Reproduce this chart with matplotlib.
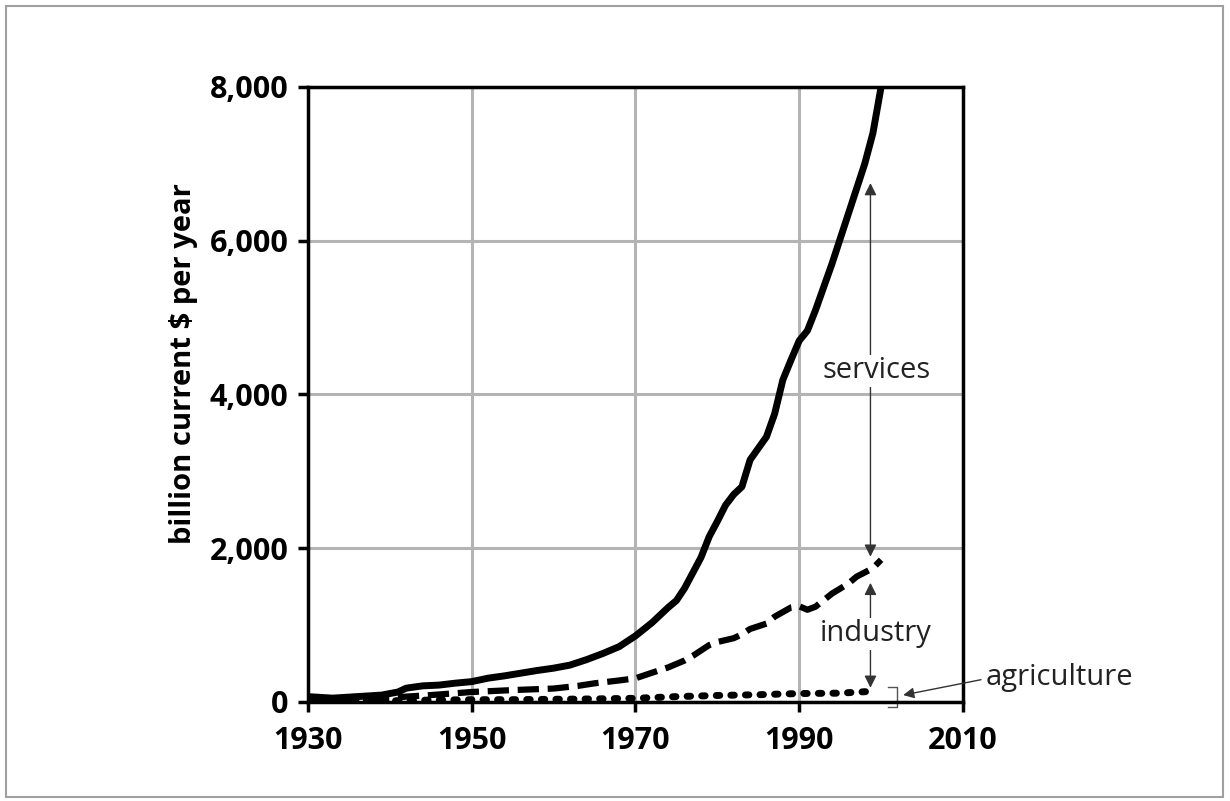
import matplotlib.pyplot as plt
from matplotlib.patches import Rectangle
from matplotlib.ticker import FuncFormatter

plt.rcParams['font.family'] = ['Open Sans', 'DejaVu Sans']

# services (solid)
years_s = [1930, 1933, 1936, 1939, 1941, 1942, 1944, 1946, 1948, 1950, 1952, 1954,
           1956, 1958, 1960, 1962, 1964, 1966, 1968, 1970, 1972, 1974, 1975, 1976,
           1977, 1978, 1979, 1980, 1981, 1982, 1983, 1984, 1986, 1987, 1988, 1989,
           1990, 1991, 1992, 1994, 1996, 1998, 1999, 2000]
services = [70, 50, 70, 90, 130, 180, 210, 220, 245, 265, 310, 340,
            375, 410, 440, 480, 550, 630, 720, 860, 1030, 1230, 1320, 1480,
            1680, 1880, 2150, 2350, 2560, 2700, 2800, 3150, 3450, 3750, 4190, 4450,
            4700, 4830, 5100, 5700, 6350, 7000, 7400, 8000]

# industry (dashed)
years_i = [1930, 1935, 1940, 1942, 1945, 1950, 1955, 1960, 1963, 1965, 1968, 1970,
           1972, 1974, 1976, 1977, 1979, 1980, 1982, 1983, 1984, 1986, 1987, 1988,
           1989, 1990, 1991, 1992, 1994, 1996, 1997, 1999, 2000]
industry = [40, 35, 50, 70, 90, 130, 155, 175, 210, 243, 280, 308,
            380, 450, 540, 600, 740, 780, 830, 880, 950, 1020, 1110, 1170,
            1230, 1245, 1200, 1240, 1410, 1540, 1630, 1740, 1850]

# agriculture (dotted)
years_a = [1930, 1940, 1945, 1950, 1955, 1960, 1965, 1970, 1975, 1980, 1985, 1990,
           1995, 1999]
agriculture = [15, 15, 25, 30, 30, 35, 40, 48, 70, 85, 95, 110, 115, 140]

x_ticks = [1930, 1950, 1970, 1990, 2010]
y_ticks = [0, 2000, 4000, 6000, 8000]

fig = plt.figure(figsize=(12.3, 8.01), dpi=100)
fig.patches.append(Rectangle((6 / 1230, 4 / 801), 1217 / 1230, 791 / 801,
                             transform=fig.transFigure, fill=False,
                             edgecolor='#a0a0a0', lw=1.5))
ax = fig.add_axes([0.2504, 0.1236, 0.5325, 0.7678])

ax.plot(years_s, services, color='black', lw=5, solid_capstyle='butt')
ax.plot(years_i, industry, color='black', lw=4.5, dashes=(3.4, 1.4))
ax.plot(years_a, agriculture, color='black', lw=5, dashes=(0.5, 1.6),
        dash_capstyle='round')

ax.set_xlim(1930, 2010)
ax.set_ylim(0, 8000)
ax.set_xticks(x_ticks)
ax.set_yticks(y_ticks)
ax.yaxis.set_major_formatter(FuncFormatter(lambda v, p: f'{int(v):,}'))
ax.grid(True, color='#b4b4b4', lw=2.2)
ax.set_axisbelow(True)
for s in ax.spines.values():
    s.set_linewidth(2.5)
ax.tick_params(direction='out', length=7, width=2.5, labelsize=22)
ax.tick_params(axis='x', pad=10)
ax.tick_params(axis='y', pad=7)
for lab in ax.get_xticklabels() + ax.get_yticklabels():
    lab.set_fontweight('bold')

fig.text(0.149, 0.5456, 'billion current $ per year', rotation=90,
         ha='center', va='center', fontsize=21, fontweight='bold')

# annotations
arr = dict(arrowstyle='<|-|>', color='#333333', lw=1, mutation_scale=18,
           shrinkA=0, shrinkB=0)
ax.annotate('', xy=(1998.7, 6750), xytext=(1998.7, 1890), arrowprops=arr)
ax.annotate('', xy=(1998.7, 1550), xytext=(1998.7, 185), arrowprops=arr)
ax.text(1999.4, 4310, 'services', ha='center', va='center', fontsize=21,
        color='#222222', bbox=dict(facecolor='white', edgecolor='none', pad=1))
ax.text(1999.4, 890, 'industry', ha='center', va='center', fontsize=21,
        color='#222222', bbox=dict(facecolor='white', edgecolor='none', pad=1))

ax.plot([2000.8, 2002.0, 2002.0, 2000.8], [200, 200, -65, -65], color='#555555',
        lw=1, clip_on=False)
ax.annotate('', xy=(2002.7, 90), xytext=(2012.2, 290),
            arrowprops=dict(arrowstyle='-|>', color='#333333', lw=1,
                            mutation_scale=16, shrinkA=0, shrinkB=0),
            annotation_clip=False)
ax.text(2012.8, 315, 'agriculture', ha='left', va='center', fontsize=21,
        color='#222222', clip_on=False)

plt.savefig('out.png', dpi=100)
